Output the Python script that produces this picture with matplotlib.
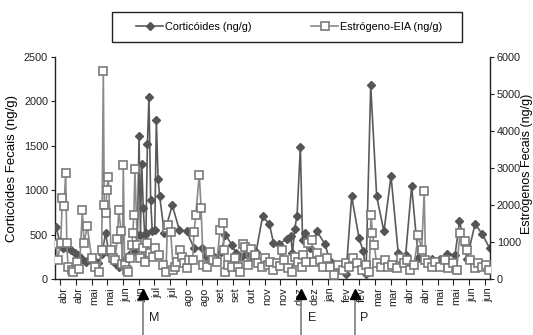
import matplotlib
matplotlib.use("Agg")
import matplotlib.pyplot as plt
import matplotlib.transforms as mtransforms
from matplotlib.patches import Rectangle

# ---------------- data ----------------
months = ['abr', 'abr', 'mai', 'mai', 'jun', 'jun', 'jul', 'jul', 'ago', 'ago',
          'set', 'set', 'out', 'nov', 'nov', 'dez', 'dez', 'jan', 'fev', 'fev',
          'mar', 'mar', 'abr', 'abr', 'mai', 'mai', 'jun', 'jun']

# Corticoides (ng/g), left axis; x in half-month tick units
cort_t = [-0.25, -0.03, 0.19, 0.44, 0.70, 0.95, 1.14, 1.40, 1.65, 1.91, 2.16, 2.41,
          2.67, 2.89, 3.11, 3.37, 3.56, 3.75, 4.00, 4.26, 4.51, 4.73, 4.92, 5.02,
          5.11, 5.19, 5.29, 5.38, 5.46, 5.55, 5.65, 5.76, 5.86, 6.02, 6.12, 6.23,
          6.33, 6.63, 7.13, 7.58, 8.05, 8.51, 9.00, 9.28, 9.59, 9.91, 10.23, 10.51,
          10.91, 11.18, 11.50, 11.82, 12.13, 12.45, 12.87, 13.30, 13.56, 13.93, 14.40,
          14.66, 14.77, 14.90, 15.06, 15.27, 15.41, 15.57, 15.88, 16.33, 16.84, 17.15,
          17.53, 17.85, 18.17, 18.53, 19.00, 19.27, 19.44, 19.74, 20.12, 20.58, 21.03,
          21.49, 21.96, 22.34, 22.76, 23.19, 23.65, 24.14, 24.61, 25.10, 25.38, 25.72,
          25.86, 26.37, 26.83, 27.30]
cort_val = [585, 430, 350, 345, 330, 290, 270, 220, 190, 240, 210, 180,
            280, 517, 290, 200, 170, 140, 200, 250, 290, 310, 500, 1610,
            500, 1300, 800, 500, 520, 1515, 2050, 885, 535, 555, 1790, 1130,
            930, 517, 830, 555, 535, 350, 345, 260, 280, 240, 300, 500,
            385, 290, 250, 280, 260, 300, 705, 620, 410, 395, 450,
            485, 290, 560, 710, 1490, 440, 520, 350, 535, 390, 200,
            150, 120, 60, 930, 460, 310, 60, 2180, 930, 535, 1160,
            290, 270, 1045, 235, 210, 225, 225, 285, 270, 650, 385,
            230, 620, 505, 345]

# Estrogenos-EIA (ng/g), right axis
estr_t = [-0.25, -0.16, 0.04, 0.15, 0.25, 0.36, 0.43, 0.51, 0.74, 0.84, 1.06, 1.23,
          1.42, 1.52, 1.73, 2.01, 2.22, 2.50, 2.65, 2.75, 2.81, 2.90, 2.97, 3.07,
          3.24, 3.39, 3.49, 3.64, 3.73, 3.88, 3.96, 4.02, 4.10, 4.24, 4.34, 4.45,
          4.56, 4.62, 4.69, 4.76, 4.91, 5.08, 5.29, 5.40, 5.55, 5.72, 5.93, 6.04,
          6.29, 6.56, 6.73, 6.82, 6.88, 7.03, 7.20, 7.31, 7.45, 7.62, 7.73, 7.88,
          8.05, 8.22, 8.43, 8.51, 8.62, 8.85, 8.96, 9.10, 9.32, 9.53, 9.74, 9.96,
          10.17, 10.34, 10.41, 10.48, 10.69, 10.91, 11.12, 11.33, 11.44, 11.61, 11.75,
          11.96, 12.11, 12.39, 12.60, 12.81, 13.02, 13.23, 13.34, 13.56, 13.77, 13.95,
          14.08, 14.23, 14.49, 14.72, 14.93, 15.12, 15.36, 15.46, 15.63, 15.77, 15.99,
          16.14, 16.31, 16.52, 16.73, 16.94, 17.15, 17.41, 17.68, 17.96, 18.17, 18.38,
          18.63, 18.89, 19.17, 19.44, 19.65, 19.76, 19.85, 19.96, 20.12, 20.37, 20.65,
          20.86, 21.07, 21.39, 21.65, 21.86, 22.03, 22.24, 22.49, 22.77, 22.98, 23.14,
          23.22, 23.40, 23.61, 23.82, 24.14, 24.46, 24.67, 24.95, 25.20, 25.41, 25.70,
          25.84, 26.05, 26.37, 26.58, 26.79, 27.05, 27.28]
estr_val = [950, 516, 970, 2190, 1963, 2870, 970, 334, 244, 198, 470, 263,
            1854, 970, 1420, 562, 334, 198, 787, 5612, 2009, 1784, 2397, 2761,
            787, 562, 516, 1078, 1873, 1284, 407, 3068, 380, 244, 198, 562,
            923, 1240, 1719, 2960, 923, 562, 833, 460, 970, 698, 605, 833,
            652, 380, 198, 1376, 1466, 1257, 244, 334, 470, 787, 605, 426,
            290, 516, 516, 1268, 1719, 2824, 1920, 380, 334, 741, 516, 470,
            1330, 1512, 787, 198, 380, 334, 562, 334, 198, 950, 877,
            380, 815, 652, 426, 334, 562, 380, 470, 244, 426, 353,
            787, 516, 299, 198, 605, 460, 334, 652, 460, 970, 1059,
            460, 698, 516, 334, 562, 334, 109, 380, 244, 426, 334,
            562, 426, 244, 380, 198, 1738, 1230, 923, 426, 334, 516,
            334, 380, 290, 562, 426, 516, 244, 380, 1195, 787, 2370,
            516, 426, 334, 470, 334, 516, 290, 426, 244, 1240, 1040,
            787, 516, 290, 426, 334, 380, 244]

events = ['M', 'E', 'P']
event_t = [5.29, 15.31, 18.74]
event_label_t = [6.0, 16.0, 19.35]

# ---------------- style ----------------
plt.rcParams['font.family'] = ['Liberation Sans', 'DejaVu Sans']

W, H = 533, 335
fig = plt.figure(figsize=(W / 100, H / 100), dpi=100)
L, R, B, T = 55, 490, 279, 57
ax = fig.add_axes([L / W, 1 - B / H, (R - L) / W, (B - T) / H])
ax2 = ax.twinx()

ax.plot(cort_t, cort_val, color='#5a5a5a', lw=1.2, marker='D', ms=4.4,
        mfc='#555555', mec='#555555', label='Corticóides (ng/g)', zorder=3)
ax2.plot(estr_t, estr_val, color='#8a8a8a', lw=1.2, marker='s', ms=5.4,
         mfc='white', mec='#7a7a7a', mew=1.2, label='Estrógeno-EIA (ng/g)', zorder=3)

ax.set_xlim(-0.32, 27.32)
ax.set_ylim(0, 2500)
ax2.set_ylim(0, 6000)
ax.set_yticks(range(0, 2501, 500))
ax2.set_yticks(range(0, 6001, 1000))
ax.set_xticks(range(len(months)))
ax.set_xticklabels(months, rotation=90)

for a in (ax, ax2):
    a.spines['top'].set_visible(False)
    for s in a.spines.values():
        s.set_linewidth(1.0)
        s.set_color('#222222')
ax.spines['right'].set_visible(False)
ax2.spines['left'].set_visible(False)
ax2.spines['bottom'].set_visible(False)

ax.tick_params(axis='y', direction='out', length=3, labelsize=7.8, pad=2, colors='#222222')
ax.tick_params(axis='x', direction='out', length=4, labelsize=7.8, pad=2, colors='#222222')
ax2.tick_params(axis='y', direction='out', length=3, labelsize=7.8, pad=2, colors='#222222')

offset = mtransforms.ScaledTranslation(3 / 100, 0, fig.dpi_scale_trans)
for lbl in ax.get_xticklabels():
    lbl.set_transform(lbl.get_transform() + offset)

ax.set_ylabel('Corticóides Fecais (ng/g)', fontsize=9.5, va='center', ha='center')
ax2.set_ylabel('Estrógenos Fecais (ng/g)', fontsize=9, rotation=90, va='center', ha='center')
ax.yaxis.set_label_coords((12 - L) / (R - L), 0.5)
ax2.yaxis.set_label_coords((526.5 - L) / (R - L), 0.52)

# event arrows
trans = mtransforms.blended_transform_factory(ax.transData, ax.transAxes)
for name, tx, lx in zip(events, event_t, event_label_t):
    ax.plot([tx, tx], [-0.075, -0.26], transform=trans, color='#888888', lw=1.3,
            clip_on=False, zorder=5)
    ax.plot([tx], [-0.068], transform=trans, marker='^', ms=7.5, color='black',
            clip_on=False, zorder=6, lw=0)
    ax.text(lx, -0.175, name, transform=trans, fontsize=9, ha='center', va='center',
            color='#222222')

# legend with rectangular frame
h1, l1 = ax.get_legend_handles_labels()
h2, l2 = ax2.get_legend_handles_labels()
fig.legend(h1 + h2, l1 + l2, loc='center', bbox_to_anchor=(289 / W, 1 - 27 / H),
           ncol=2, frameon=False, fontsize=7.8, handlelength=2.5, handletextpad=0.15,
           columnspacing=5.5)
fig.patches.append(Rectangle((112 / W, 1 - 42 / H), 350 / W, 30 / H,
                             transform=fig.transFigure, fill=False,
                             edgecolor='#222222', lw=1.0))

fig.savefig('out.png', dpi=100)
